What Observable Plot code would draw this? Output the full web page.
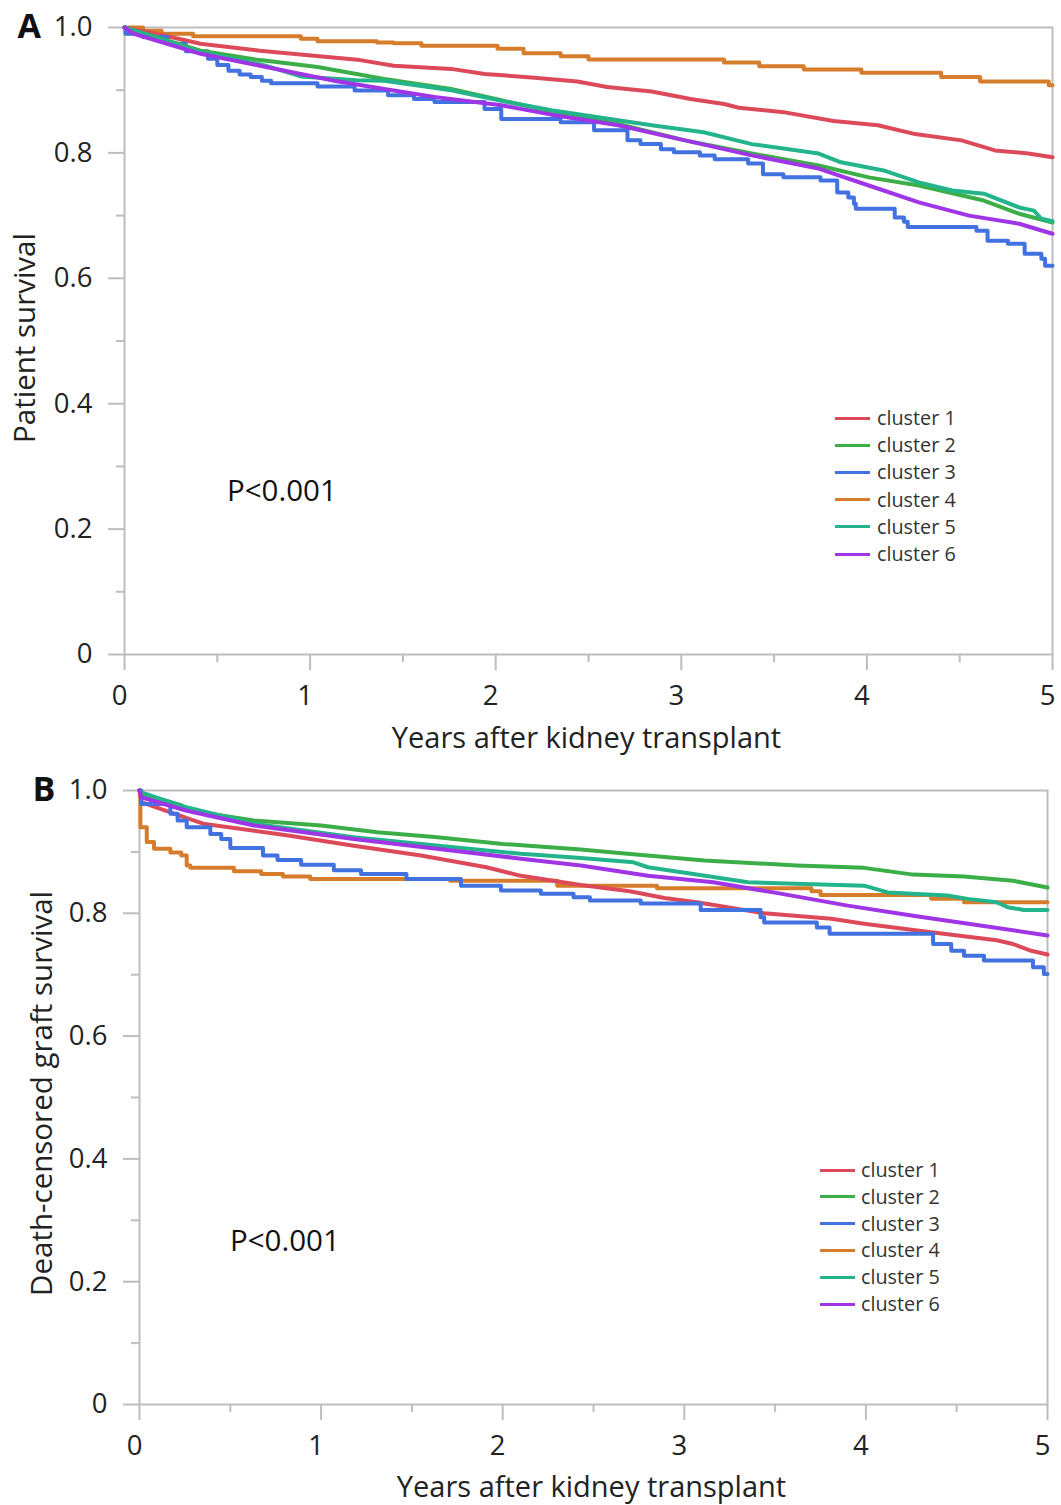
<!DOCTYPE html>
<html>
<head>
<meta charset="utf-8">
<script src="https://cdn.jsdelivr.net/npm/d3@7"></script>
<script src="https://cdn.jsdelivr.net/npm/@observablehq/plot@0.6"></script>
<style>
  html, body { margin: 0; padding: 0; background: #fff; }
  #root { position: relative; width: 1061px; height: 1505px; font-family: "Open Sans", "Noto Sans", sans-serif; color: #222; }
  .panel { position: absolute; left: 0; }
  .legend { position: absolute; }
  .legend .row { position: absolute; left: 0; height: 0; white-space: nowrap; }
  .legend .sw { position: absolute; left: 0; top: -1.5px; width: 35px; height: 3px; }
  .legend .lab { position: absolute; top: -14px; font-size: 19.8px; line-height: 28px; color: #333; }
  .pval { position: absolute; font-size: 29.5px; line-height: 34px; color: #111; }
</style>
</head>
<body>
<div id="root"></div>
<script>
// ---------------- DATA ----------------
const clusters = ["cluster 1", "cluster 2", "cluster 3", "cluster 4", "cluster 5", "cluster 6"];
const colors = ["#dc4a5a", "#3cae48", "#4272e0", "#d67d2c", "#24b48c", "#a035e6"];
const xTicks = [0, 1, 2, 3, 4, 5];
const xMinorTicks = [0.5, 1.5, 2.5, 3.5, 4.5];
const yTicks = [0, 0.2, 0.4, 0.6, 0.8, 1.0];
const yMinorTicks = [0.1, 0.3, 0.5, 0.7, 0.9];

// Panel A: patient survival, [years, survival]
const patientC1 = [[0,1],[0.2,0.988],[0.41,0.974],[0.73,0.963],[1.02,0.955],[1.27,0.948],[1.45,0.939],[1.76,0.934],[1.94,0.926],[2.21,0.92],[2.44,0.914],[2.60,0.905],[2.84,0.898],[3.05,0.886],[3.23,0.878],[3.31,0.872],[3.55,0.865],[3.82,0.851],[4.06,0.844],[4.26,0.830],[4.51,0.820],[4.69,0.804],[4.87,0.799],[5.0,0.793]];
const patientC2 = [[0,1],[0.41,0.963],[0.73,0.948],[1.04,0.937],[1.40,0.918],[1.76,0.902],[2.03,0.884],[2.30,0.866],[2.66,0.846],[3.02,0.820],[3.38,0.799],[3.74,0.780],[4.01,0.761],[4.28,0.748],[4.63,0.724],[4.82,0.703],[5.0,0.689]];
const patientC3 = [[0,1],[0.005,0.99],[0.1,0.985],[0.23,0.974],[0.33,0.962],[0.45,0.95],[0.5,0.94],[0.56,0.931],[0.62,0.925],[0.68,0.921],[0.74,0.915],[0.79,0.911],[1.04,0.906],[1.24,0.8995],[1.42,0.892],[1.56,0.886],[1.67,0.881],[1.94,0.870],[2.03,0.854],[2.35,0.849],[2.53,0.836],[2.71,0.820],[2.78,0.814],[2.89,0.806],[2.96,0.801],[3.10,0.796],[3.18,0.790],[3.36,0.783],[3.44,0.766],[3.55,0.761],[3.75,0.756],[3.84,0.737],[3.90,0.729],[3.93,0.719],[3.94,0.711],[4.15,0.697],[4.20,0.690],[4.22,0.682],[4.59,0.676],[4.65,0.660],[4.76,0.655],[4.85,0.639],[4.94,0.631],[4.96,0.620],[5.0,0.620]];
const patientC4 = [[0,1],[0.1,0.995],[0.2,0.99],[0.37,0.986],[0.95,0.982],[1.04,0.978],[1.36,0.976],[1.45,0.975],[1.60,0.971],[2.01,0.966],[2.15,0.959],[2.35,0.954],[2.50,0.949],[3.23,0.944],[3.42,0.938],[3.66,0.933],[3.97,0.928],[4.40,0.921],[4.61,0.914],[4.98,0.908],[5.0,0.908]];
const patientC5 = [[0,1],[0.41,0.961],[0.75,0.94],[0.95,0.922],[1.25,0.916],[1.40,0.915],[1.76,0.900],[2.03,0.883],[2.30,0.868],[2.66,0.852],[2.84,0.844],[3.12,0.833],[3.38,0.814],[3.74,0.799],[3.86,0.785],[4.09,0.772],[4.28,0.753],[4.46,0.740],[4.63,0.735],[4.82,0.713],[4.90,0.708],[4.94,0.695],[5.0,0.691]];
const patientC6 = [[0,1],[0.05,0.99],[0.41,0.958],[0.73,0.939],[1.13,0.915],[1.40,0.902],[1.67,0.889],[2.03,0.876],[2.30,0.861],[2.66,0.844],[3.02,0.820],[3.38,0.796],[3.74,0.775],[4.01,0.748],[4.28,0.721],[4.55,0.700],[4.82,0.687],[5.0,0.671]];

// Panel B: death-censored graft survival, [years, survival]
const graftC1 = [[0,1],[0.01,0.981],[0.17,0.9645],[0.35,0.946],[0.81,0.927],[1.18,0.910],[1.55,0.894],[1.91,0.875],[2.10,0.861],[2.28,0.853],[2.43,0.846],[2.70,0.836],[2.89,0.825],[3.07,0.818],[3.44,0.800],[3.81,0.791],[3.99,0.783],[4.36,0.769],[4.72,0.756],[4.81,0.750],[4.91,0.739],[5.0,0.733]];
const graftC2 = [[0,1],[0.01,0.995],[0.23,0.976],[0.28,0.967],[0.63,0.951],[1.0,0.943],[1.31,0.932],[1.64,0.924],[2.0,0.913],[2.43,0.904],[2.61,0.899],[3.11,0.886],[3.62,0.878],[3.99,0.874],[4.26,0.863],[4.54,0.860],[4.81,0.853],[5.0,0.842]];
const graftC3 = [[0,1],[0.01,0.978],[0.17,0.962],[0.21,0.951],[0.26,0.940],[0.39,0.929],[0.45,0.921],[0.50,0.9065],[0.68,0.894],[0.76,0.887],[0.89,0.879],[1.07,0.870],[1.22,0.864],[1.47,0.856],[1.77,0.845],[1.99,0.837],[2.21,0.832],[2.39,0.826],[2.48,0.821],[2.76,0.816],[3.09,0.8055],[3.42,0.7935],[3.44,0.785],[3.73,0.777],[3.80,0.7665],[4.37,0.750],[4.47,0.739],[4.54,0.731],[4.65,0.723],[4.92,0.712],[4.98,0.701],[5.0,0.701]];
const graftC4 = [[0,1],[0.005,0.94],[0.04,0.916],[0.08,0.905],[0.17,0.899],[0.23,0.894],[0.26,0.878],[0.28,0.874],[0.52,0.8685],[0.67,0.864],[0.79,0.860],[0.94,0.856],[1.71,0.853],[2.30,0.845],[2.85,0.841],[3.70,0.836],[3.75,0.830],[4.36,0.8235],[4.54,0.818],[5.0,0.818]];
const graftC5 = [[0,1],[0.01,0.997],[0.23,0.975],[0.63,0.946],[1.18,0.924],[1.73,0.9075],[2.10,0.897],[2.43,0.890],[2.72,0.883],[2.80,0.875],[3.16,0.859],[3.35,0.8505],[3.99,0.845],[4.12,0.834],[4.45,0.829],[4.56,0.8235],[4.72,0.818],[4.78,0.810],[4.87,0.8055],[5.0,0.8055]];
const graftC6 = [[0,1],[0.01,0.989],[0.26,0.967],[0.63,0.943],[1.18,0.921],[1.73,0.902],[2.10,0.889],[2.43,0.878],[2.80,0.861],[3.16,0.8505],[3.53,0.832],[3.90,0.8125],[4.26,0.796],[4.63,0.780],[5.0,0.764]];

const patientSeries = [patientC1, patientC2, patientC3, patientC4, patientC5, patientC6];
const graftSeries = [graftC1, graftC2, graftC3, graftC4, graftC5, graftC6];
// clusters drawn with visible coarse steps
const stepClusters = [2, 3];
const pText = "P<0.001";

// ---------------- DRAW ----------------
const AXIS_GRAY = "#bdbdbd";
const FONT = "Open Sans, Noto Sans, sans-serif";

function makePanel(cfg) {
  const lineMarks = cfg.series.map((s, i) =>
    Plot.line(s, {
      x: d => d[0], y: d => d[1],
      stroke: colors[i], strokeWidth: 4,
      curve: stepClusters.includes(i) ? "step-after" : "linear"
    })
  );
  const order = [3, 0, 2, 1, 4, 5];
  return Plot.plot({
    width: 1061, height: cfg.height,
    marginLeft: cfg.ml, marginRight: cfg.mr, marginTop: cfg.mt, marginBottom: cfg.mb,
    style: {fontFamily: FONT, fontSize: "27px", color: "#222", background: "transparent", overflow: "visible"},
    x: {domain: [0, 5]},
    y: {domain: [0, 1]},
    marks: [
      Plot.frame({stroke: AXIS_GRAY, strokeWidth: 2}),
      Plot.axisX({ticks: xMinorTicks, tickSize: 8, tickFormat: () => "", stroke: AXIS_GRAY, strokeWidth: 2, label: null}),
      Plot.axisX({ticks: xTicks, tickSize: 16, tickFormat: () => "", stroke: AXIS_GRAY, strokeWidth: 2, label: null}),
      Plot.axisX({ticks: xTicks, tickSize: 0, tickPadding: 31, tickFormat: d => String(d), fill: "#222", fontSize: 27.5, dx: -5, label: null}),
      Plot.axisY({ticks: yMinorTicks, tickSize: 8, tickFormat: () => "", stroke: AXIS_GRAY, strokeWidth: 2, label: null}),
      Plot.axisY({ticks: yTicks, tickSize: 16, tickPadding: 16, tickFormat: d => d === 0 ? "0" : d.toFixed(1), stroke: AXIS_GRAY, strokeWidth: 2, fill: "#222", fontSize: 27.5, label: null}),
      ...order.map(i => lineMarks[i]),
      Plot.text([cfg.letter], {frameAnchor: "top-left", dx: cfg.letterDx, dy: 0, textAnchor: "start", lineAnchor: "middle", fontSize: 34, fontWeight: "bold", fill: "#111"}),
      Plot.text([cfg.ytitle], {frameAnchor: "left", dx: cfg.ytitleDx, dy: cfg.ytitleDy, rotate: -90, textAnchor: "middle", lineAnchor: "middle", fontSize: 29.5, fill: "#222"}),
      Plot.text([cfg.xtitle], {frameAnchor: "bottom", dx: cfg.xtitleDx, dy: cfg.xtitleDy, textAnchor: "middle", lineAnchor: "middle", fontSize: 29, fill: "#222"})
    ]
  });
}

const root = document.getElementById("root");

const svgA = makePanel({
  series: patientSeries, height: 752, ml: 124, mr: 9, mt: 27, mb: 98,
  letter: "A", letterDx: -107,
  ytitle: "Patient survival", ytitleDx: -99, ytitleDy: -3,
  xtitle: "Years after kidney transplant", xtitleDx: -2, xtitleDy: 84
});
svgA.classList.add("panel"); svgA.style.top = "0px";
root.appendChild(svgA);

const svgB = makePanel({
  series: graftSeries, height: 753, ml: 139, mr: 14, mt: 38, mb: 101,
  letter: "B", letterDx: -107,
  ytitle: "Death-censored graft survival", ytitleDx: -97, ytitleDy: -4,
  xtitle: "Years after kidney transplant", xtitleDx: -2, xtitleDy: 83
});
svgB.classList.add("panel"); svgB.style.top = "752px";
root.appendChild(svgB);

function addLegend(left, top, spacing, textDx) {
  const lg = document.createElement("div");
  lg.className = "legend";
  lg.style.left = left + "px"; lg.style.top = top + "px";
  clusters.forEach((c, i) => {
    const row = document.createElement("div");
    row.className = "row";
    row.style.top = (i * spacing) + "px";
    const sw = document.createElement("div");
    sw.className = "sw"; sw.style.background = colors[i];
    const lab = document.createElement("div");
    lab.className = "lab"; lab.style.left = textDx + "px";
    lab.textContent = c;
    row.appendChild(sw); row.appendChild(lab);
    lg.appendChild(row);
  });
  root.appendChild(lg);
}
addLegend(835, 418, 27.2, 42);
addLegend(820, 1170, 26.8, 41);

function addP(left, top) {
  const p = document.createElement("div");
  p.className = "pval";
  p.style.left = left + "px"; p.style.top = (top - 17) + "px";
  p.textContent = pText;
  root.appendChild(p);
}
addP(227, 490);
addP(230, 1240);
</script>
</body>
</html>
